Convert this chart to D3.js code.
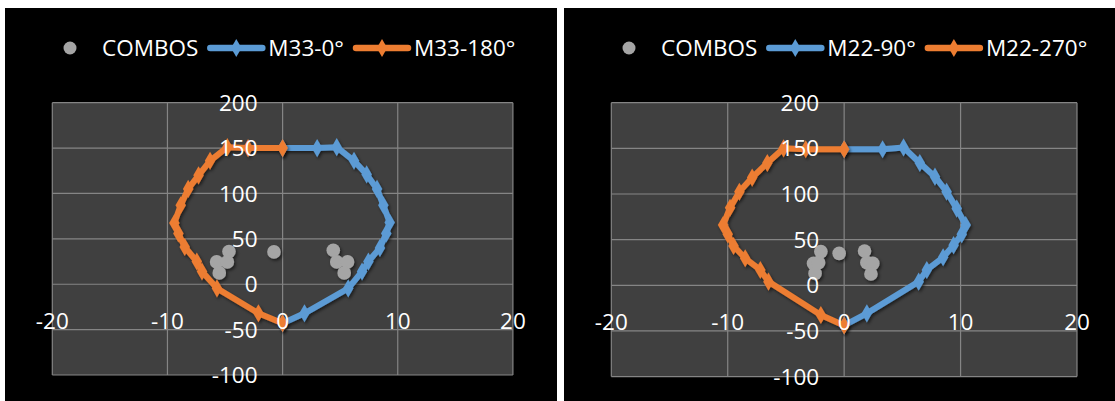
<!doctype html>
<html>
<head>
<meta charset="utf-8">
<script src="https://d3js.org/d3.v7.min.js"></script>
<style>
  body { margin: 0; background: #fff; }
  svg { display: block; font-family: "Open Sans", sans-serif; }
</style>
</head>
<body>
<svg width="1115" height="401"></svg>
<script>
// axis ticks
var xTicks = [-20, -10, 0, 10, 20];
var yTicks = [-100, -50, 0, 50, 100, 150, 200];

// left chart (M33)
var legend33 = ["COMBOS", "M33-0\u00b0", "M33-180\u00b0"];
var m33_0 = [[0,150],[3,150],[4.7,151],[6.2,136],[7.3,121],[8.2,105],[8.75,87],[9.3,68],[9.0,56],[8.45,40],[7.45,25],[6.9,14],[5.7,-4.5],[1.9,-32],[0,-43]];
var m33_180 = [[0,150],[-3,150],[-4.8,151],[-6.3,136],[-7.3,120],[-8.2,105],[-8.85,87],[-9.4,67.5],[-9.05,56],[-8.5,41],[-7.45,25],[-7.0,14],[-5.7,-4.5],[-2.1,-32],[0,-43]];
var combos33 = [[-4.66,36],[-5.73,24.6],[-4.8,24.6],[-5.5,12.5],[-0.75,35.6],[4.4,37.4],[4.7,24.6],[5.64,24.6],[5.35,12.5]];

// right chart (M22)
var legend22 = ["COMBOS", "M22-90\u00b0", "M22-270\u00b0"];
var m22_90 = [[0,149],[3.3,149],[5.1,151],[6.5,134],[7.8,119],[8.8,102.5],[9.67,84],[10.44,66],[10.1,56],[9.4,44],[8.5,30.7],[7.1,16.8],[6.4,4],[1.95,-30.7],[0,-44]];
var m22_270 = [[0,149],[-3.3,149],[-5.2,150],[-6.6,134],[-7.9,118],[-9.0,102.5],[-9.8,85],[-10.4,66],[-10.0,56],[-9.5,43],[-8.5,29.6],[-7.2,16.8],[-6.5,4],[-2.0,-32.5],[0,-44]];
var combos22 = [[-2.0,36.9],[-2.63,24],[-2.2,24.8],[-2.5,13],[-0.43,35],[1.75,37.6],[1.95,24.8],[2.46,24],[2.3,12.4]];

var svg = d3.select("svg");

var defs = svg.append("defs");
var f = defs.append("filter").attr("id", "shadow").attr("x", "-20%").attr("y", "-20%").attr("width", "140%").attr("height", "140%");
f.append("feDropShadow").attr("dx", 1.5).attr("dy", 2).attr("stdDeviation", 1.5)
 .attr("flood-color", "#000").attr("flood-opacity", 0.55);

var blue = "#5b9bd5", orange = "#ed7d31", grey = "#a5a5a5";

function drawPanel(p) {
    var g = svg.append("g");

    g.append("rect")
     .attr("x", p.left).attr("y", 8)
     .attr("width", p.right - p.left).attr("height", 401 - 8)
     .attr("fill", "#000");

    var x = d3.scaleLinear().domain([-20, 20]).range(p.xr);
    var y = d3.scaleLinear().domain([-100, 200]).range(p.yr);

    // plot area
    g.append("rect")
     .attr("x", x(-20)).attr("y", y(200))
     .attr("width", x(20) - x(-20)).attr("height", y(-100) - y(200))
     .attr("fill", "#404040");

    g.selectAll(".gx").data(xTicks).enter().append("line")
     .attr("x1", function(d) { return x(d); }).attr("x2", function(d) { return x(d); })
     .attr("y1", y(200)).attr("y2", y(-100))
     .attr("stroke", "#858585").attr("stroke-width", 1.2);

    g.selectAll(".gy").data(yTicks).enter().append("line")
     .attr("x1", x(-20)).attr("x2", x(20))
     .attr("y1", function(d) { return y(d); }).attr("y2", function(d) { return y(d); })
     .attr("stroke", "#858585").attr("stroke-width", 1.2);

    var line = d3.line().x(function(d) { return x(d[0]); }).y(function(d) { return y(d[1]); });
    var diamond = d3.symbol().type(d3.symbolDiamond).size(95);

    // combos scatter
    g.append("g").attr("filter", "url(#shadow)")
     .selectAll("circle").data(p.combos).enter().append("circle")
     .attr("cx", function(d) { return x(d[0]); })
     .attr("cy", function(d) { return y(d[1]); })
     .attr("r", 6.8)
     .attr("fill", grey);

    [[p.s1, blue], [p.s2, orange]].forEach(function(s) {
        var sg = g.append("g").attr("filter", "url(#shadow)");
        sg.append("path")
          .attr("d", line(s[0]))
          .attr("fill", "none")
          .attr("stroke", s[1])
          .attr("stroke-width", 6)
          .attr("stroke-linejoin", "round");
        sg.selectAll(".mk").data(s[0]).enter().append("path")
          .attr("d", diamond)
          .attr("transform", function(d) { return "translate(" + x(d[0]) + "," + y(d[1]) + ")"; })
          .attr("fill", s[1]);
    });

    // y tick labels
    g.selectAll(".yl").data(yTicks).enter().append("text")
     .attr("x", x(0) - 25)
     .attr("y", function(d) { return y(d); })
     .attr("dy", "0.36em")
     .attr("text-anchor", "end")
     .attr("fill", "#fff")
     .attr("font-size", "22.5px")
     .text(function(d) { return d; });

    // x tick labels
    g.selectAll(".xl").data(xTicks).enter().append("text")
     .attr("x", function(d) { return x(d); })
     .attr("y", y(-40))
     .attr("dy", "0.36em")
     .attr("text-anchor", "middle")
     .attr("fill", "#fff")
     .attr("font-size", "22.5px")
     .text(function(d) { return d; });

    // legend
    var ly = 48, cx = p.legendX;
    var lg = g.append("g");
    lg.append("circle").attr("cx", cx).attr("cy", ly).attr("r", 6.5).attr("fill", grey);
    cx += 32;
    var cols = [null, blue, orange];
    p.labels.forEach(function(lab, i) {
        if (i > 0) {
            cx += 9;
            lg.append("line").attr("x1", cx + 3).attr("x2", cx + 55).attr("y1", ly).attr("y2", ly)
              .attr("stroke", cols[i]).attr("stroke-width", 6.5).attr("stroke-linecap", "round");
            lg.append("path").attr("d", d3.symbol().type(d3.symbolDiamond).size(95))
              .attr("transform", "translate(" + (cx + 29) + "," + ly + ")")
              .attr("fill", cols[i]);
            cx += 61;
        }
        var t = lg.append("text").attr("x", cx).attr("y", ly).attr("dy", "0.36em")
          .attr("fill", "#fff").attr("font-size", "22.5px").text(lab);
        cx += t.node().getComputedTextLength();
    });
}

drawPanel({left: 5, right: 557, xr: [52.3, 512.9], yr: [375, 102.7],
           s1: m33_0, s2: m33_180, combos: combos33, labels: legend33, legendX: 70});
drawPanel({left: 564, right: 1115, xr: [611.3, 1077], yr: [376.6, 102.7],
           s1: m22_90, s2: m22_270, combos: combos22, labels: legend22, legendX: 629});
</script>
</body>
</html>
